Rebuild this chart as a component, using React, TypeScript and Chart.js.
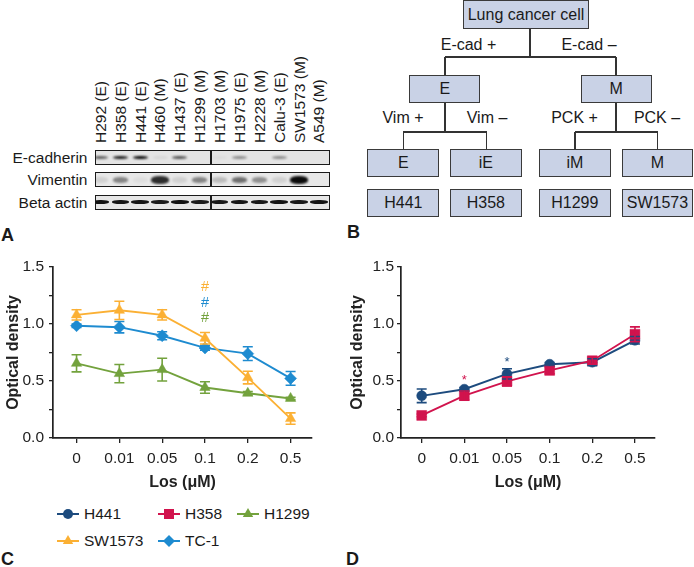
import React, { useEffect, useRef } from "react";
import { Chart, registerables } from "chart.js";
Chart.register(...registerables);

const FONT = "'Liberation Sans', Arial, Helvetica, sans-serif";
Chart.defaults.font.family = FONT;

// ---------- Panel A (western blot) ----------
const laneLabels = ["H292 (E)", "H358 (E)", "H441 (E)", "H460 (M)", "H1437 (E)", "H1299 (M)", "H1703 (M)", "H1975 (E)", "H2228 (M)", "Calu-3 (E)", "SW1573 (M)", "A549 (M)"];
const blotRows = ["E-cadherin", "Vimentin", "Beta actin"];
const ecadherin = [0.6, 0.9, 1.0, 0.06, 0.65, 0, 0.03, 0.4, 0, 0.4, 0, 0];
const vimentin = [0.1, 0.45, 0.04, 0.85, 0.1, 0.45, 0.2, 0.55, 0.4, 0.1, 1.0, 0];
const betaActin = [0.97, 0.95, 0.95, 0.93, 0.97, 0.92, 0.94, 0.95, 0.94, 0.96, 0.94, 0.96];

// ---------- Panel B (classification) ----------
const rootLabel = "Lung cancer cell";
const branch1Labels = ["E-cad +", "E-cad –"];
const level1Labels = ["E", "M"];
const branch2Labels = ["Vim +", "Vim –", "PCK +", "PCK –"];
const level2Labels = ["E", "iE", "iM", "M"];
const cellLines = ["H441", "H358", "H1299", "SW1573"];

// ---------- Panels C & D ----------
const doseLabels = ["0", "0.01", "0.05", "0.1", "0.2", "0.5"];
const yTickValues = [0, 0.25, 0.5, 0.75, 1.0, 1.25, 1.5];

const sw1573 = [1.08, 1.12, 1.08, 0.875, 0.53, 0.17];
const sw1573Err = [0.045, 0.08, 0.045, 0.05, 0.055, 0.05];
const tc1 = [0.985, 0.972, 0.897, 0.79, 0.74, 0.523];
const tc1Err = [0.015, 0.05, 0.035, 0.02, 0.06, 0.06];
const h1299 = [0.655, 0.565, 0.6, 0.443, 0.392, 0.347];
const h1299Err = [0.075, 0.08, 0.1, 0.05, 0.015, 0.01];

const h441 = [0.37, 0.428, 0.562, 0.647, 0.665, 0.857];
const h441Err = [0.06, 0.015, 0.045, 0.015, 0.03, 0.033];
const h358 = [0.198, 0.372, 0.497, 0.593, 0.678, 0.91];
const h358Err = [0.012, 0.04, 0.04, 0.03, 0.03, 0.065];

const C_NAVY = "#1d4b7e";
const C_RED = "#d1134d";
const C_GREEN = "#73a23d";
const C_ORANGE = "#fbb034";
const C_BLUE = "#1e8bd0";

// annotations: [x index, y value, text, colour]
const hashMarks: [number, number, string, string][] = [
  [3, 1.335, "#", C_ORANGE],
  [3, 1.193, "#", C_BLUE],
  [3, 1.058, "#", C_GREEN],
];
const starMarks: [number, number, string, string][] = [
  [1, 0.544, "*", C_RED],
  [2, 0.7, "*", C_NAVY],
];

type Series = { label: string; values: number[]; errors: number[]; color: string; style: string; radius: number };

const seriesC: Series[] = [
  { label: "SW1573", values: sw1573, errors: sw1573Err, color: C_ORANGE, style: "triangle", radius: 6 },
  { label: "TC-1", values: tc1, errors: tc1Err, color: C_BLUE, style: "rectRot", radius: 6 },
  { label: "H1299", values: h1299, errors: h1299Err, color: C_GREEN, style: "triangle", radius: 6 },
];
const seriesD: Series[] = [
  { label: "H358", values: h358, errors: h358Err, color: C_RED, style: "rect", radius: 7 },
  { label: "H441", values: h441, errors: h441Err, color: C_NAVY, style: "circle", radius: 5 },
];

const errorBarPlugin = {
  id: "errorBars",
  afterDatasetsDraw(chart: any) {
    const ctx = chart.ctx;
    const ys = chart.scales.y;
    for (let di = chart.data.datasets.length - 1; di >= 0; di--) {
      const ds = chart.data.datasets[di];
      const meta = chart.getDatasetMeta(di);
      if (!ds.errors) continue;
      ctx.save();
      ctx.strokeStyle = ds.borderColor;
      ctx.lineWidth = 1.6;
      meta.data.forEach((pt: any, i: number) => {
        const v = ds.data[i].y;
        const e = ds.errors[i];
        const t = ys.getPixelForValue(v + e);
        const b = ys.getPixelForValue(v - e);
        ctx.beginPath();
        ctx.moveTo(pt.x, t);
        ctx.lineTo(pt.x, b);
        ctx.moveTo(pt.x - 5, t);
        ctx.lineTo(pt.x + 5, t);
        ctx.moveTo(pt.x - 5, b);
        ctx.lineTo(pt.x + 5, b);
        ctx.stroke();
      });
      ctx.restore();
    }
  },
};

function makeMarkPlugin(marks: [number, number, string, string][], size: number, baseShift: number) {
  return {
    id: "marks",
    afterDraw(chart: any) {
      const ctx = chart.ctx;
      ctx.save();
      ctx.font = `${size}px ${FONT}`;
      ctx.textAlign = "center";
      ctx.textBaseline = "alphabetic";
      marks.forEach(([xi, yv, txt, col]) => {
        ctx.fillStyle = col;
        ctx.fillText(txt, chart.scales.x.getPixelForValue(xi), chart.scales.y.getPixelForValue(yv) + baseShift);
      });
      ctx.restore();
    },
  };
}

type ChartProps = {
  left: number; top: number; width: number; height: number;
  series: Series[]; yAxisWidth: number; padRight: number; xMin: number; xMax: number;
  yTitlePad: number; yTickPad: number; marks: any;
};

function LineChart(p: ChartProps) {
  const ref = useRef<HTMLCanvasElement>(null);
  useEffect(() => {
    const chart = new Chart(ref.current!, {
      type: "line",
      data: {
        datasets: p.series.map((s) => ({
          label: s.label,
          data: s.values.map((v, i) => ({ x: i, y: v })),
          errors: s.errors,
          borderColor: s.color,
          backgroundColor: s.color,
          pointBackgroundColor: s.color,
          pointBorderColor: s.color,
          pointStyle: s.style,
          pointRadius: s.radius,
          pointBorderWidth: 0.5,
          borderWidth: 1.9,
          tension: 0,
        })) as any,
      },
      options: {
        animation: false,
        responsive: false,
        layout: { padding: { top: 15, right: p.padRight, left: 0, bottom: 0 } },
        plugins: { legend: { display: false }, tooltip: { enabled: false } },
        scales: {
          x: {
            type: "linear",
            min: p.xMin,
            max: p.xMax,
            afterBuildTicks: (s: any) => { s.ticks = doseLabels.map((_, i) => ({ value: i })); },
            afterFit: (s: any) => { s.height = 59; },
            ticks: {
              callback: (v: any) => doseLabels[v] ?? "",
              font: { size: 15.5 }, color: "#222", padding: 6, maxRotation: 0, autoSkip: false,
            },
            grid: { drawOnChartArea: false, tickLength: 5, color: "#222", lineWidth: 1.3 },
            border: { color: "#222", width: 1.7 },
            title: { display: true, text: "Los (μM)", font: { size: 16, weight: "bold" }, color: "#222", padding: { top: 0, bottom: 5 } },
          },
          y: {
            min: 0,
            max: 1.5,
            afterBuildTicks: (s: any) => { s.ticks = yTickValues.map((v) => ({ value: v })); },
            afterFit: (s: any) => { s.width = p.yAxisWidth; },
            ticks: {
              callback: (v: any) => (Math.round(v * 100) % 50 === 0 ? Number(v).toFixed(1) : ""),
              font: { size: 15.5 }, color: "#222", padding: p.yTickPad, autoSkip: false,
            },
            grid: { drawOnChartArea: false, tickLength: 4, color: "#222", lineWidth: 1.3 },
            border: { color: "#222", width: 1.7 },
            title: { display: true, text: "Optical density", font: { size: 16, weight: "bold" }, color: "#222", padding: { top: p.yTitlePad, bottom: 0 } },
          },
        },
      } as any,
      plugins: [errorBarPlugin, p.marks],
    });
    return () => chart.destroy();
  }, []);
  return (
    <canvas ref={ref} width={p.width} height={p.height}
      style={{ position: "absolute", left: p.left, top: p.top, width: p.width, height: p.height }} />
  );
}

function Marker({ style, color }: { style: string; color: string }) {
  const cx = 11, cy = 7;
  let shape: any = null;
  if (style === "circle") shape = <circle cx={cx} cy={cy} r={5} fill={color} />;
  else if (style === "rect") shape = <rect x={cx - 5} y={cy - 5} width={10} height={10} fill={color} />;
  else if (style === "rectRot") shape = <polygon points={`${cx},${cy - 6} ${cx + 6},${cy} ${cx},${cy + 6} ${cx - 6},${cy}`} fill={color} />;
  else shape = <polygon points={`${cx},${cy - 6} ${cx + 5.2},${cy + 3} ${cx - 5.2},${cy + 3}`} fill={color} />;
  return (
    <svg width={22} height={14} style={{ position: "absolute", left: 0, top: 0 }}>
      <line x1={0} y1={cy} x2={22} y2={cy} stroke={color} strokeWidth={2} />
      {shape}
    </svg>
  );
}

const legendItems: [string, string, string, number, number][] = [
  ["H441", "circle", C_NAVY, 57, 514],
  ["H358", "rect", C_RED, 158, 514],
  ["H1299", "triangle", C_GREEN, 237, 514],
  ["SW1573", "triangle", C_ORANGE, 57, 540.5],
  ["TC-1", "rectRot", C_BLUE, 158, 540.5],
];

function Band({ x, y, w, h, a, blur }: { x: number; y: number; w: number; h: number; a: number; blur: number }) {
  if (a <= 0) return null;
  return (
    <div style={{
      position: "absolute", left: x - w / 2, top: y - h / 2, width: w, height: h,
      background: `rgba(10,10,10,${a})`, borderRadius: "45%", filter: `blur(${blur}px)`,
    }} />
  );
}

const laneX = (i: number) => 100.4 + i * 19.87;

function Box({ x1, x2, y1, y2, text }: { x1: number; x2: number; y1: number; y2: number; text: string }) {
  return (
    <div style={{
      position: "absolute", left: x1, top: y1, width: x2 - x1, height: y2 - y1, boxSizing: "border-box",
      background: "#c9d2e6", border: "1.2px solid #3a3a3a", display: "flex", alignItems: "center",
      justifyContent: "center", fontSize: 16, color: "#1a1a1a", whiteSpace: "nowrap",
    }}>{text}</div>
  );
}

function Line({ x1, y1, x2, y2 }: { x1: number; y1: number; x2: number; y2: number }) {
  const horiz = y1 === y2;
  return (
    <div style={{
      position: "absolute",
      left: horiz ? Math.min(x1, x2) : x1 - 0.6,
      top: horiz ? y1 - 0.6 : Math.min(y1, y2),
      width: horiz ? Math.abs(x2 - x1) : 1.3,
      height: horiz ? 1.3 : Math.abs(y2 - y1),
      background: "#333",
    }} />
  );
}

function CenterText({ cx, cy, text, size = 16, color = "#1a1a1a", bold = false }: any) {
  return (
    <div style={{
      position: "absolute", left: cx - 60, width: 120, top: cy - 0.49 * size, lineHeight: `${size}px`,
      fontSize: size, textAlign: "center", color, whiteSpace: "nowrap", fontWeight: bold ? "bold" : "normal",
    }}>{text}</div>
  );
}

export default function App() {
  const stripRows = [
    { top: 150.7, h: 13.8, bg: "#e4e4e4", values: ecadherin, bandY: 157.6, bandH: 3.8, blur: 0.8 },
    { top: 172.7, h: 14.2, bg: "#e8e8e8", values: vimentin, bandY: 180, bandH: 5.5, blur: 1.3 },
    { top: 195, h: 14.3, bg: "#e6e6e6", values: betaActin, bandY: 202.3, bandH: 3.8, blur: 0.5 },
  ];
  const rowCenters = [157.5, 179.8, 202.2];
  const l3 = [[367.3, 439.3], [450, 521.7], [539, 610.7], [621.7, 693.3]];

  return (
    <div style={{ position: "absolute", left: 0, top: 0, width: 694, height: 567, overflow: "hidden", background: "#fff", fontFamily: FONT, color: "#1a1a1a" }}>
      {/* Panel A */}
      {laneLabels.map((t, i) => (
        <div key={t} style={{
          position: "absolute", left: laneX(i) - 0.49 * 15.5, top: 143, transform: "rotate(-90deg)",
          transformOrigin: "0 0", fontSize: 15.5, lineHeight: "15.5px", whiteSpace: "nowrap",
        }}>{t}</div>
      ))}
      {blotRows.map((t, i) => (
        <div key={t} style={{
          position: "absolute", left: 0, width: 87.5, top: rowCenters[i] - 0.49 * 15.5, fontSize: 15.5,
          lineHeight: "15.5px", textAlign: "right", whiteSpace: "nowrap",
        }}>{t}</div>
      ))}
      {stripRows.map((r, ri) => (
        <React.Fragment key={ri}>
          <div style={{ position: "absolute", left: 95, top: r.top, width: 234.5, height: r.h, background: r.bg, overflow: "hidden" }}>
            <div style={{ position: "absolute", left: 0, top: 0, width: 234.5, height: r.h }}>
              {r.values.map((a, i) => (
                <Band key={i} x={laneX(i) - 95} y={r.bandY - r.top}
                  w={ri === 1 && (i === 3 || i === 10) ? 18 : ri === 2 ? 17.5 : 15}
                  h={ri === 1 && (i === 3 || i === 10) ? 7.5 : r.bandH} a={a} blur={r.blur} />
              ))}
            </div>
          </div>
          <div style={{ position: "absolute", left: 94.5, top: r.top - 0.5, width: 235.5, height: r.h + 1, border: "1.5px solid #1a1a1a", boxSizing: "border-box" }} />
          <div style={{ position: "absolute", left: 210, top: r.top, width: 1.5, height: r.h, background: "#1a1a1a" }} />
        </React.Fragment>
      ))}
      <div style={{ position: "absolute", left: 1, top: 228 - 0.13 * 18, fontSize: 18, lineHeight: "18px", fontWeight: "bold" }}>A</div>

      {/* Panel B */}
      <Box x1={462.7} x2={589.3} y1={0} y2={29.3} text={rootLabel} />
      <Line x1={530} y1={29.3} x2={530} y2={57} />
      <Line x1={445} y1={57} x2={616} y2={57} />
      <Line x1={445} y1={57} x2={445} y2={75} />
      <Line x1={616} y1={57} x2={616} y2={75} />
      <CenterText cx={468.5} cy={45} text={branch1Labels[0]} />
      <CenterText cx={589} cy={45} text={branch1Labels[1]} />
      <Box x1={409.3} x2={480.3} y1={75} y2={103.3} text={level1Labels[0]} />
      <Box x1={580.7} x2={651.7} y1={75} y2={103.3} text={level1Labels[1]} />
      <Line x1={445} y1={103.3} x2={445} y2={132} />
      <Line x1={403.3} y1={132} x2={486.7} y2={132} />
      <Line x1={403.3} y1={132} x2={403.3} y2={149.3} />
      <Line x1={486.7} y1={132} x2={486.7} y2={149.3} />
      <Line x1={616} y1={103.3} x2={616} y2={132} />
      <Line x1={575} y1={132} x2={657.5} y2={132} />
      <Line x1={575} y1={132} x2={575} y2={149.3} />
      <Line x1={657.5} y1={132} x2={657.5} y2={149.3} />
      <CenterText cx={403} cy={118} text={branch2Labels[0]} />
      <CenterText cx={487} cy={118} text={branch2Labels[1]} />
      <CenterText cx={574.5} cy={118} text={branch2Labels[2]} />
      <CenterText cx={657} cy={118} text={branch2Labels[3]} />
      {l3.map(([a, b], i) => (
        <Box key={"l3" + i} x1={a} x2={b} y1={149.3} y2={177.3} text={level2Labels[i]} />
      ))}
      {l3.map(([a, b], i) => (
        <Box key={"l4" + i} x1={a} x2={b} y1={189} y2={216.7} text={cellLines[i]} />
      ))}
      <div style={{ position: "absolute", left: 347, top: 225 - 0.13 * 18, fontSize: 18, lineHeight: "18px", fontWeight: "bold" }}>B</div>

      {/* Panel C */}
      <LineChart left={0} top={252} width={330} height={245} series={seriesC} yAxisWidth={53}
        padRight={18} xMin={-0.55} xMax={5.5} yTitlePad={4} yTickPad={5} marks={makeMarkPlugin(hashMarks, 14.5, 5)} />
      {legendItems.map(([t, st, col, x, y]) => (
        <React.Fragment key={t}>
          <div style={{ position: "absolute", left: x, top: y - 7, width: 22, height: 14 }}>
            <Marker style={st} color={col} />
          </div>
          <div style={{ position: "absolute", left: x + 27, top: y - 0.49 * 15.5, fontSize: 15.5, lineHeight: "15.5px", whiteSpace: "nowrap" }}>{t}</div>
        </React.Fragment>
      ))}
      <div style={{ position: "absolute", left: 1, top: 552 - 0.13 * 18, fontSize: 18, lineHeight: "18px", fontWeight: "bold" }}>C</div>

      {/* Panel D */}
      <LineChart left={347} top={252} width={330} height={245} series={seriesD} yAxisWidth={54}
        padRight={22} xMin={-0.485} xMax={5.47} yTitlePad={0.5} yTickPad={3} marks={makeMarkPlugin(starMarks, 13, 8)} />
      <div style={{ position: "absolute", left: 346, top: 552 - 0.13 * 18, fontSize: 18, lineHeight: "18px", fontWeight: "bold" }}>D</div>
    </div>
  );
}
